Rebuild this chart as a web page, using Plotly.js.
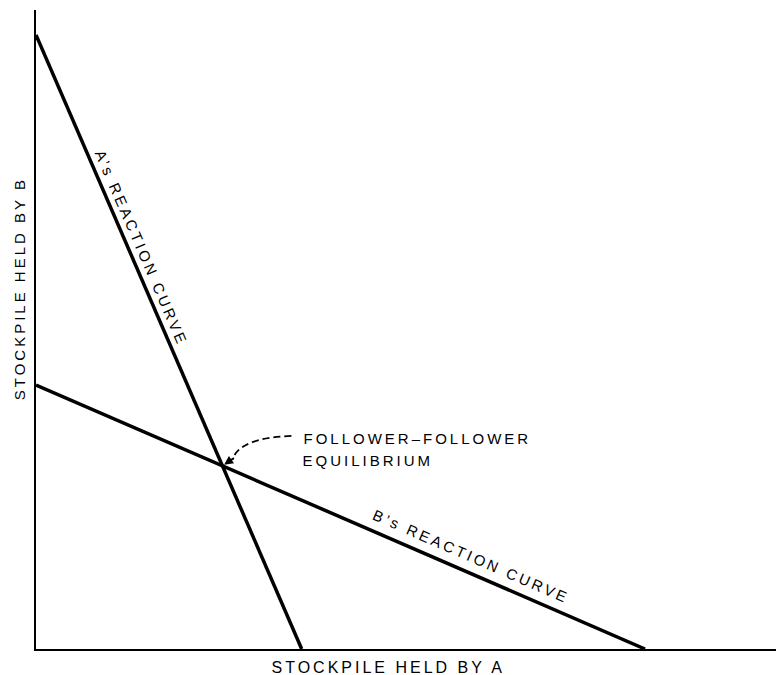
<!DOCTYPE html>
<html>
<head>
<meta charset="utf-8">
<script src="https://cdn.plot.ly/plotly-3.0.1.min.js"></script>
<style>
  body { margin: 0; background: #fff; }
  #grafico svg text { letter-spacing: 3px; }
</style>
</head>
<body>
<div id="grafico" style="width:782px;height:675px;"></div>
<script>
// curvas de reacción (x = stock de A, y = stock de B)
const curvaA_x = [0, 3.59];
const curvaA_y = [9.61, 0];
const curvaB_x = [0, 8.23];
const curvaB_y = [4.13, 0];

const etiquetaA = "A’s REACTION CURVE";
const etiquetaB = "B’s REACTION CURVE";
const ejeX = "STOCKPILE HELD BY A";
const ejeY = "STOCKPILE HELD BY B";
const nota = ["FOLLOWER–FOLLOWER", "EQUILIBRIUM"];

// recta que pasa por dos puntos -> y = m x + b
function recta(xs, ys) {
  const m = (ys[1] - ys[0]) / (xs[1] - xs[0]);
  return { m: m, b: ys[0] - m * xs[0] };
}
const rA = recta(curvaA_x, curvaA_y);
const rB = recta(curvaB_x, curvaB_y);
const eqX = (rB.b - rA.b) / (rA.m - rB.m);
const eqY = rA.m * eqX + rA.b;

const fuente = { family: "Liberation Sans, Arial, sans-serif", color: "#000" };

const trazos = [
  { x: curvaA_x, y: curvaA_y, type: 'scatter', mode: 'lines', line: { color: '#000', width: 3.5 }, hoverinfo: 'skip' },
  { x: curvaB_x, y: curvaB_y, type: 'scatter', mode: 'lines', line: { color: '#000', width: 3.5 }, hoverinfo: 'skip' }
];

// flecha curva discontinua hacia el equilibrio
const s = [eqX + 0.932, eqY + 0.469];
const c = [eqX + 0.223, eqY + 0.438];
const e = [eqX + 0.135, eqY + 0.094];

const layout = {
  width: 782,
  height: 675,
  margin: { l: 36, r: 6, t: 10, b: 26 },
  paper_bgcolor: '#fff',
  plot_bgcolor: '#fff',
  showlegend: false,
  xaxis: { range: [0, 10], showline: true, linecolor: '#000', linewidth: 2, showgrid: false, zeroline: false, showticklabels: false, ticks: '' },
  yaxis: { range: [0, 10], showline: true, linecolor: '#000', linewidth: 2, showgrid: false, zeroline: false, showticklabels: false, ticks: '' },
  shapes: [
    { type: 'path', xref: 'x', yref: 'y', path: `M ${s[0]} ${s[1]} Q ${c[0]} ${c[1]} ${e[0]} ${e[1]}`, line: { color: '#000', width: 1.8, dash: '7px,4px' } }
  ],
  annotations: [
    { x: 1.275, y: rA.m * 1.275 + rA.b, xref: 'x', yref: 'y', text: etiquetaA, showarrow: false, textangle: 66.6, xshift: 11.7, yshift: 5, font: Object.assign({ size: 15 }, fuente) },
    { x: 5.8, y: rB.m * 5.8 + rB.b, xref: 'x', yref: 'y', text: etiquetaB, showarrow: false, textangle: 23.5, xshift: 6.5, yshift: 15, font: Object.assign({ size: 15 }, fuente) },
    { x: eqX, y: eqY, xref: 'x', yref: 'y', text: '', showarrow: true, arrowhead: 2, arrowsize: 1, arrowwidth: 1.8, arrowcolor: '#000', ax: 13, ay: -9, standoff: 2 },
    { x: eqX, y: eqY, xref: 'x', yref: 'y', text: nota[0], showarrow: false, xanchor: 'center', yanchor: 'middle', xshift: 195, yshift: 27, font: Object.assign({ size: 15 }, fuente) },
    { x: eqX, y: eqY, xref: 'x', yref: 'y', text: nota[1], showarrow: false, xanchor: 'center', yanchor: 'middle', xshift: 146, yshift: 5, font: Object.assign({ size: 15 }, fuente) },
    { x: 0.476, y: 0, xref: 'paper', yref: 'paper', text: ejeX, showarrow: false, yanchor: 'middle', yshift: -18, font: Object.assign({ size: 16 }, fuente) },
    { x: 0, y: 0.563, xref: 'paper', yref: 'paper', text: ejeY, showarrow: false, textangle: -90, xshift: -27, font: Object.assign({ size: 15 }, fuente) }
  ]
};

Plotly.newPlot('grafico', trazos, layout, { displayModeBar: false, staticPlot: true });
</script>
</body>
</html>
